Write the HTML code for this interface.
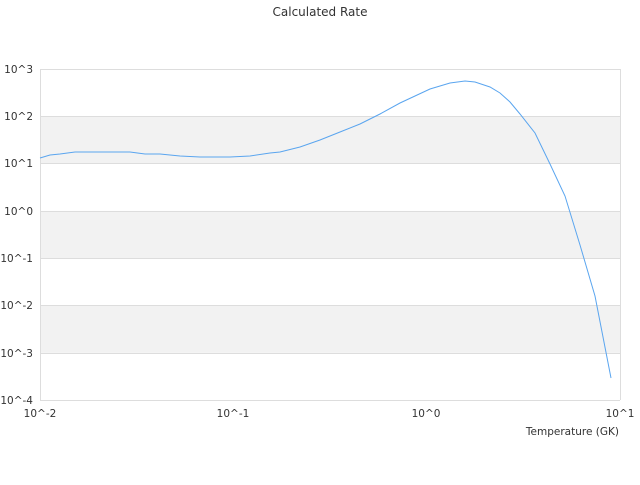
<!DOCTYPE html>
<html><head><style>body{margin:0;background:#fff}svg{font-family:"DejaVu Sans",sans-serif}</style></head>
<body>
<svg width="640" height="480" xmlns="http://www.w3.org/2000/svg">
<rect width="640" height="480" fill="#fff"/>
<text x="320" y="16" font-size="12" fill="#333" text-anchor="middle">Calculated Rate</text>
<rect x="40" y="116.3" width="580" height="47.3" fill="#f2f2f2"/>
<rect x="40" y="210.9" width="580" height="47.3" fill="#f2f2f2"/>
<rect x="40" y="305.5" width="580" height="47.3" fill="#f2f2f2"/>
<g stroke="#ddd" stroke-width="1">
<line x1="40" y1="69.5" x2="620" y2="69.5"/>
<line x1="40" y1="116.5" x2="620" y2="116.5"/>
<line x1="40" y1="163.5" x2="620" y2="163.5"/>
<line x1="40" y1="211.5" x2="620" y2="211.5"/>
<line x1="40" y1="258.5" x2="620" y2="258.5"/>
<line x1="40" y1="305.5" x2="620" y2="305.5"/>
<line x1="40" y1="353.5" x2="620" y2="353.5"/>
<line x1="40" y1="400.5" x2="620" y2="400.5"/>
<line x1="40.5" y1="69" x2="40.5" y2="400"/>
<line x1="620.5" y1="69" x2="620.5" y2="400"/>
</g>
<g font-size="10.5" fill="#333" text-anchor="end">
<text x="33" y="73">10^3</text><text x="33" y="120">10^2</text><text x="33" y="167">10^1</text>
<text x="33" y="215">10^0</text><text x="33" y="262">10^-1</text><text x="33" y="309">10^-2</text>
<text x="33" y="357">10^-3</text><text x="33" y="404">10^-4</text>
</g>
<g font-size="10.5" fill="#333" text-anchor="middle">
<text x="40" y="417">10^-2</text><text x="233" y="417">10^-1</text><text x="426" y="417">10^0</text><text x="620" y="417">10^1</text>
</g>
<text x="619" y="435" font-size="10.5" fill="#333" text-anchor="end">Temperature (GK)</text>
<polyline fill="none" stroke="#5aa5ef" stroke-width="1" points="40,158 50,155 60,154 75,152 90,152 130,152 145,154 160,154 180,156 200,157 230,157 250,156 270,153 280,152 300,147 320,140 340,132 360,124 380,114 400,103 415,96 430,89 450,83 465,81 475,82 490,87 500,93 510,102 520,114 535,133 550,164 565,196 580,245 595,296 611,378"/>
</svg>
</body></html>
